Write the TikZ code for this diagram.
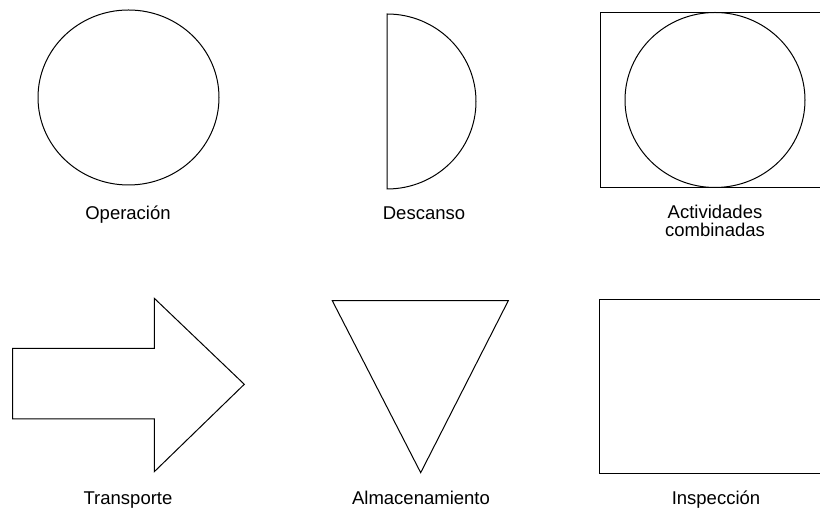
\documentclass[tikz,border=0pt]{standalone}
\usepackage{fontspec}
\setmainfont{Liberation Sans}
\begin{document}
\begin{tikzpicture}[x=1pt,y=1pt,
  figline/.style={draw=black,line width=1pt,line join=miter},
  lbl/.style={font=\fontsize{18.5}{18.5}\selectfont,anchor=base,inner sep=0pt,align=center}]
\useasboundingbox (0,0) rectangle (820,510);
% Operacion
\draw[figline] (128.5,412.5) ellipse [x radius=90.5, y radius=87.5];
\node[lbl] (op) at (128,290) {Operación};
% Descanso
\draw[figline] (387,321) -- (387,496) arc[start angle=90, end angle=-90, x radius=89, y radius=87.5] -- cycle;
\node[lbl] (de) at (424,290) {Descanso};
% Actividades combinadas
\draw[figline] (820,497.3) -- (600,497.3) -- (600,322.5) -- (820,322.5);
\draw[figline] (715,410) ellipse [x radius=90, y radius=87.5];
\node[lbl] (ac1) at (715,291) {Actividades};
\node[lbl] (ac2) at (715,273.5) {combinadas};
% Transporte
\draw[figline] (12.7,161.7) -- (154.3,161.7) -- (154.3,211.7) -- (244.3,125.7) -- (154.3,38.3) -- (154.3,91) -- (12.7,91) -- cycle;
\node[lbl] (tr) at (128,5) {Transporte};
% Almacenamiento
\draw[figline] (332.3,209.3) -- (508.3,209.3) -- (420.7,37.3) -- cycle;
\node[lbl] (al) at (421,5) {Almacenamiento};
% Inspeccion
\draw[figline] (820,210.7) -- (599,210.7) -- (599,36.7) -- (820,36.7);
\node[lbl] (in) at (716,5) {Inspección};
\end{tikzpicture}
\end{document}
